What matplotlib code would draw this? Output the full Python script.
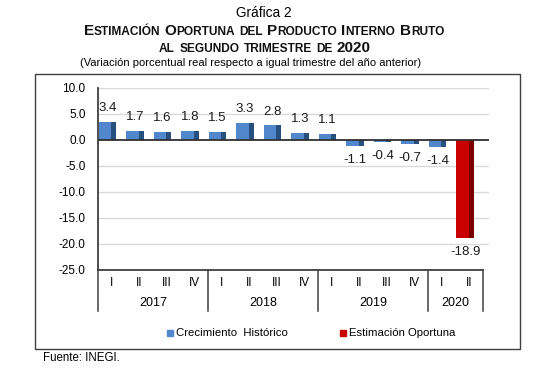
import numpy as np
import matplotlib
matplotlib.use('Agg')
from matplotlib import pyplot as plt
from matplotlib.patches import Rectangle

plt.rcParams['font.family'] = ['Liberation Sans', 'DejaVu Sans']

# datos
quarters = ['I', 'II', 'III', 'IV', 'I', 'II', 'III', 'IV', 'I', 'II', 'III', 'IV', 'I', 'II']
years = ['2017', '2018', '2019', '2020']
year_len = [4, 4, 4, 2]
values = [3.4, 1.7, 1.6, 1.8, 1.5, 3.3, 2.8, 1.3, 1.1, -1.1, -0.4, -0.7, -1.4, -18.9]
labels = ['3.4', '1.7', '1.6', '1.8', '1.5', '3.3', '2.8', '1.3', '1.1', '-1.1', '-0.4', '-0.7', '-1.4', '-18.9']
is_estimate = [False] * 13 + [True]
yticks = [10, 5, 0, -5, -10, -15, -20, -25]

W, H = 552, 369
fig = plt.figure(figsize=(W / 100, H / 100), dpi=100)
fig.patch.set_facecolor('white')

def fx(px):
    return px / W

def fy(py):
    return 1 - py / H

# caja del grafico
fig.patches.append(Rectangle((fx(35), fy(349)), fx(520) - fx(35), fy(74) - fy(349),
                             transform=fig.transFigure, fill=False, edgecolor='#404040', lw=1.0))

n = len(values)
cat_px = 27.5
xmax = n - 0.5 + 6 / cat_px
ax = fig.add_axes([fx(98), fy(270), fx(98 + (xmax + 0.5) * cat_px) - fx(98), fy(88) - fy(270)])
ax.set_xlim(-0.5, xmax)
ax.set_ylim(-25, 10)
for s in ['top', 'right', 'bottom']:
    ax.spines[s].set_visible(False)
ax.spines['left'].set_color('#404040')
ax.spines['left'].set_linewidth(1.3)
ax.spines['left'].set_bounds(-25, 10)

for t in yticks:
    if t != 0:
        ax.axhline(t, color='#d9d9d9', lw=1.0, zorder=0)
ax.plot([-0.5, n - 0.5], [-25, -25], color='#404040', lw=1.3, zorder=3, clip_on=False)

ax.set_yticks(yticks)
ax.set_yticklabels(['%.1f' % t for t in yticks], fontsize=8.5)
ax.tick_params(axis='y', length=0, pad=9)
ax.set_xticks([])

# barras con efecto 3D
pos = np.arange(n) - 0.15
bw = 0.64
front_w = 0.46
for i in range(n):
    if is_estimate[i]:
        face, side = '#c80000', '#7a0000'
    else:
        face, side = '#5187cc', '#27507f'
    ax.bar(pos[i] - bw / 2, values[i], width=bw, align='edge', color=side, zorder=2)
    ax.bar(pos[i] - bw / 2, values[i], width=front_w, align='edge', color=face, zorder=2.1)
    off = 10 if values[i] >= 0 else -10
    ax.annotate(labels[i], (pos[i], values[i]), xytext=(0, off), textcoords='offset points',
                ha='center', va='center', fontsize=9.5, color='#1a1a1a')

ax.axhline(0, color='#303030', lw=1.3, zorder=3)

# eje de categorias
trans = ax.get_xaxis_transform()
drop = -41 / 182
for i, q in enumerate(quarters):
    ax.text(i, -13 / 182, q, transform=trans, ha='center', va='center', fontsize=8.5)
edges = np.concatenate([[0], np.cumsum(year_len)]) - 0.5
for e in edges:
    ax.plot([e, e], [0, drop], transform=trans, color='#404040', lw=1.1, clip_on=False)
for k, yr in enumerate(years):
    ax.text((edges[k] + edges[k + 1]) / 2, -33 / 182, yr, transform=trans,
            ha='center', va='center', fontsize=9)

# leyenda
fig.patches.append(Rectangle((fx(167), fy(336)), fx(6), fy(330) - fy(336),
                             transform=fig.transFigure, color='#5187cc'))
fig.text(fx(176), fy(333), 'Crecimiento  Histórico', fontsize=8.2, va='center')
fig.patches.append(Rectangle((fx(340), fy(336)), fx(6), fy(330) - fy(336),
                             transform=fig.transFigure, color='#c80000'))
fig.text(fx(349), fy(333), 'Estimación Oportuna', fontsize=8.2, va='center')

fig.text(fx(43), fy(358), 'Fuente: INEGI.', fontsize=8.3, va='center')

# titulos
fig.text(fx(264), fy(13), 'Gráfica 2', fontsize=9.8, ha='center', va='center')
fig.text(fx(251), fy(63), '(Variación porcentual real respecto a igual trimestre del año anterior)',
         fontsize=8, ha='center', va='center')

renderer = fig.canvas.get_renderer()

def small_caps(cx, cy, words, big=11, small=8.6):
    # cada palabra es una lista de (texto, grande?)
    gap = big * 100 / 72 * 0.28
    texts = []
    total = 0
    for w_i, word in enumerate(words):
        for part, is_big in word:
            t = fig.text(0, fy(cy), part, fontsize=big if is_big else small,
                         fontweight='bold', va='baseline', color='#111111')
            wpx = t.get_window_extent(renderer).width
            texts.append((t, total))
            total += wpx
        if w_i < len(words) - 1:
            total += gap
    start = cx - total / 2
    for t, off in texts:
        t.set_x(fx(start + off))

line1 = [[('E', True), ('STIMACIÓN', False)], [('O', True), ('PORTUNA', False)],
         [('DEL', False)], [('P', True), ('RODUCTO', False)],
         [('I', True), ('NTERNO', False)], [('B', True), ('RUTO', False)]]
line2 = [[('AL', False)], [('SEGUNDO', False)], [('TRIMESTRE', False)], [('DE', False)], [('2020', True)]]
small_caps(264, 35, line1)
small_caps(265, 51.5, line2)

fig.savefig('out.png', dpi=100)
